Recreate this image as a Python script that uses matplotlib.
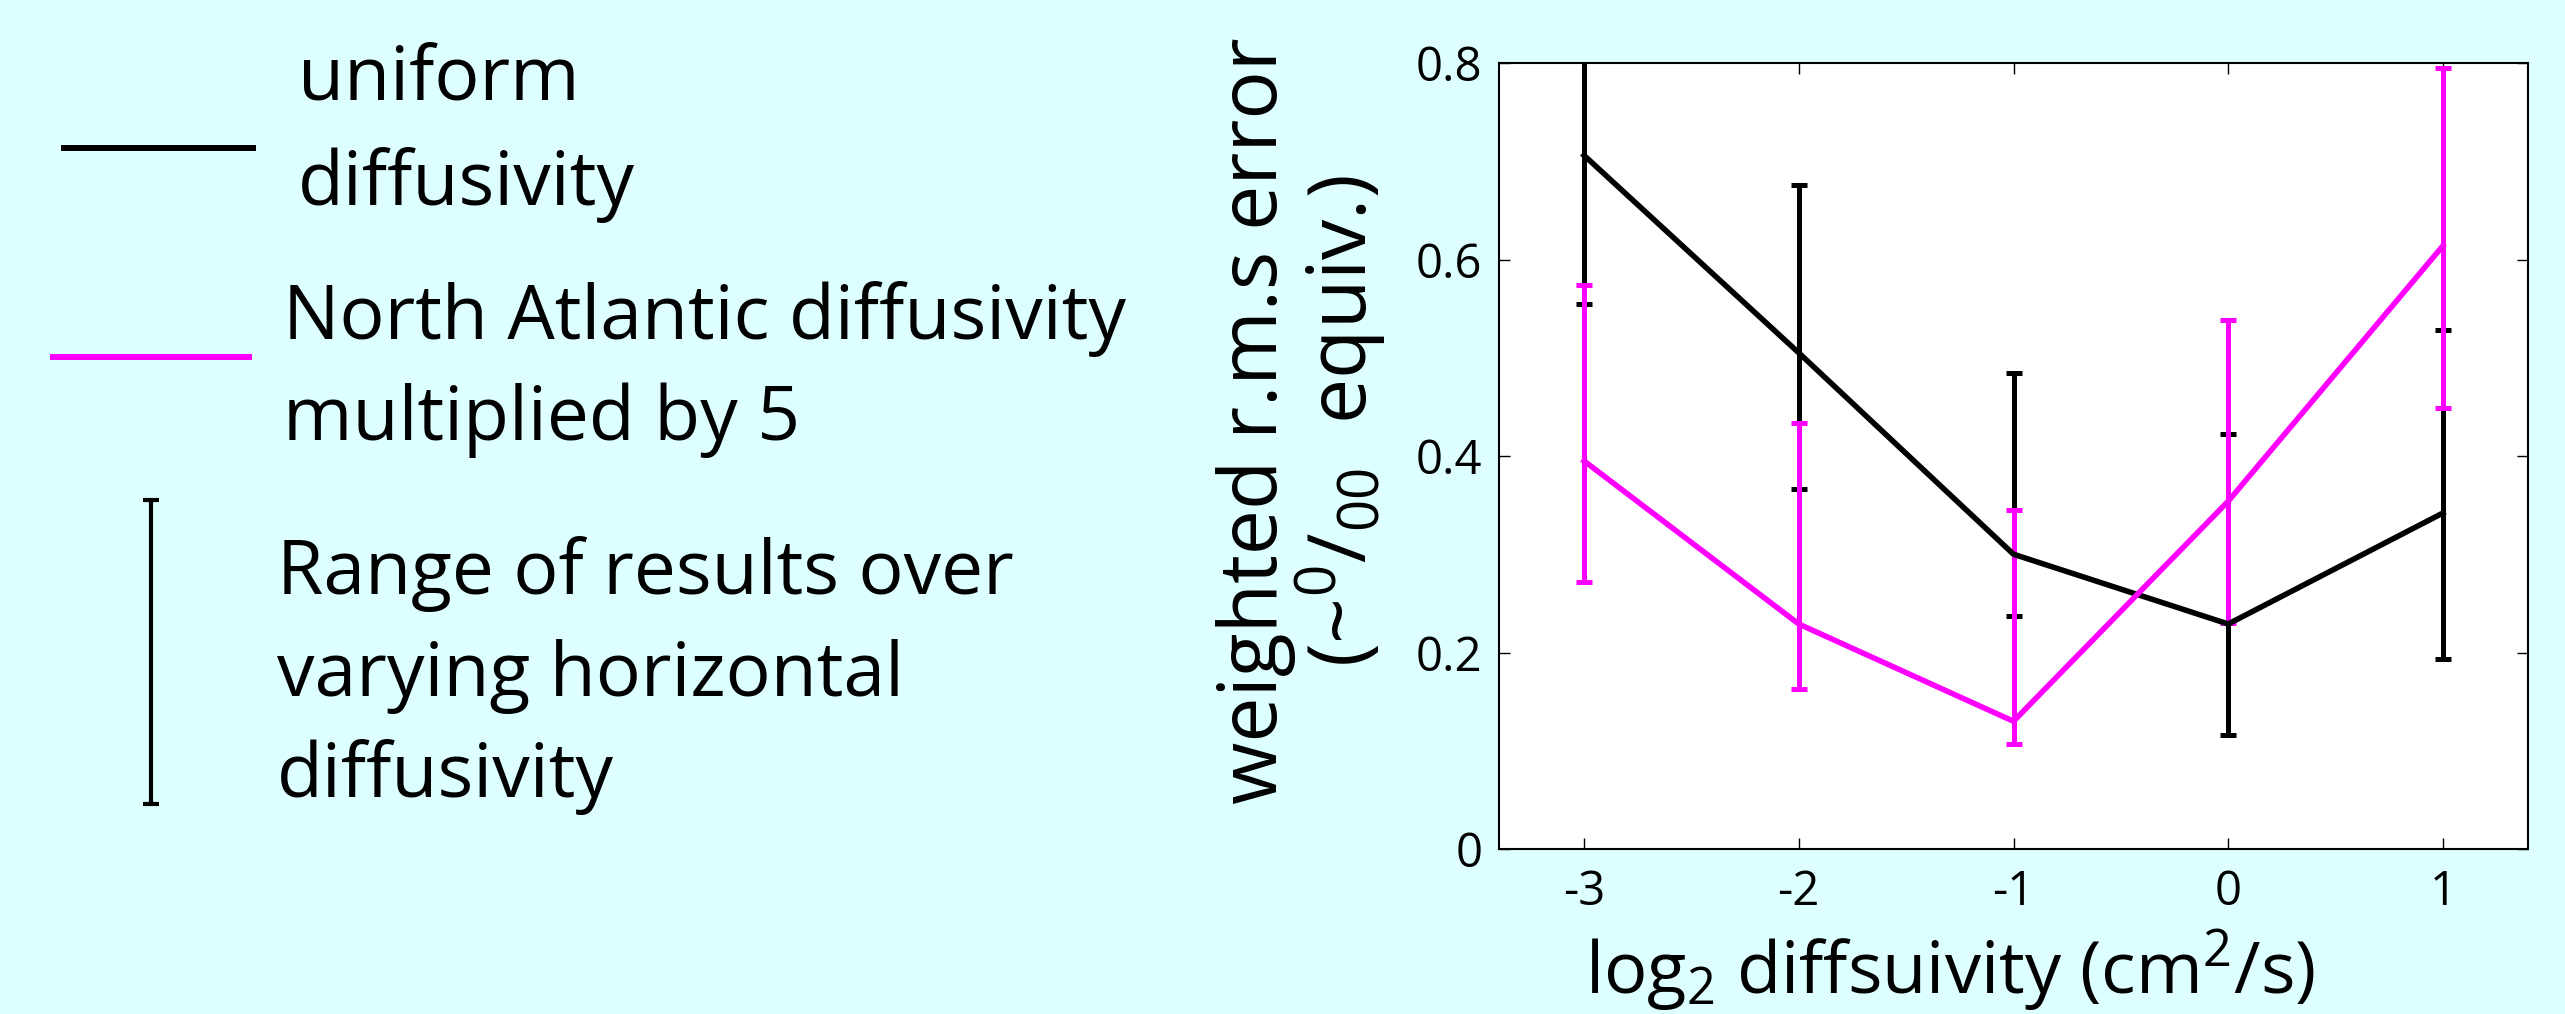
import numpy as np
import matplotlib
matplotlib.use("Agg")
from matplotlib import pyplot as plt

# log2 diffusivity
x = [-3, -2, -1, 0, 1]

# uniform diffusivity (black)
uniform = [0.706, 0.505, 0.300, 0.229, 0.342]
uniform_lo = [0.555, 0.366, 0.237, 0.116, 0.193]
uniform_hi = [0.85, 0.676, 0.484, 0.422, 0.528]

# North Atlantic diffusivity x5 (magenta)
natl = [0.395, 0.229, 0.130, 0.354, 0.614]
natl_lo = [0.272, 0.163, 0.107, 0.230, 0.449]
natl_hi = [0.574, 0.434, 0.345, 0.538, 0.795]

yticks = [0, 0.2, 0.4, 0.6, 0.8]
ytick_labels = ["0", "0.2", "0.4", "0.6", "0.8"]
xtick_labels = ["-3", "-2", "-1", "0", "1"]

bg = "#DDFFFF"
magenta = "#FF00FF"

plt.rcParams["font.family"] = ["Open Sans", "DejaVu Sans"]
plt.rcParams["mathtext.fontset"] = "custom"
plt.rcParams["mathtext.rm"] = "Open Sans"
plt.rcParams["mathtext.it"] = "Open Sans"

W, H = 2565, 1014
fig = plt.figure(figsize=(W / 100, H / 100), dpi=100)
fig.patch.set_facecolor(bg)

## legenda desenhada a mao (coordenadas em pixels)
lax = fig.add_axes([0, 0, 1, 1])
lax.set_xlim(0, W)
lax.set_ylim(H, 0)
lax.axis("off")

leg_fs = 54
lax.plot([61, 256], [148, 148], color="black", lw=4.3, solid_capstyle="butt")
lax.text(298, 100, "uniform", fontsize=leg_fs, va="baseline")
lax.text(298, 205, "diffusivity", fontsize=leg_fs, va="baseline")

lax.plot([50, 252], [357, 357], color=magenta, lw=4.3, solid_capstyle="butt")
lax.text(283, 339, "North Atlantic diffusivity", fontsize=leg_fs, va="baseline")
lax.text(283, 440, "multiplied by 5", fontsize=leg_fs, va="baseline")

lax.errorbar([151], [652], yerr=[[152], [152]], color="black", lw=3, capsize=6, capthick=3)
lax.text(277, 594, "Range of results over", fontsize=leg_fs, va="baseline")
lax.text(277, 696, "varying horizontal", fontsize=leg_fs, va="baseline")
lax.text(277, 797, "diffusivity", fontsize=leg_fs, va="baseline")

## grafico principal
ax = fig.add_axes([1499 / W, 1 - 849 / H, (2528 - 1499) / W, (849 - 63) / H])
ax.set_facecolor("white")

u = np.array(uniform)
n = np.array(natl)
ax.errorbar(x, u, yerr=[u - np.array(uniform_lo), np.array(uniform_hi) - u],
            color="black", lw=4, elinewidth=3.6, capsize=6, capthick=3.6)
ax.errorbar(x, n, yerr=[n - np.array(natl_lo), np.array(natl_hi) - n],
            color=magenta, lw=4, elinewidth=3.6, capsize=6, capthick=3.6)

ax.set_xlim(-3.396, 1.396)
ax.set_ylim(0, 0.8)
ax.set_xticks(x)
ax.set_xticklabels(xtick_labels)
ax.set_yticks(yticks)
ax.set_yticklabels(ytick_labels)
ax.tick_params(direction="in", length=8, width=1, top=True, right=True, labelsize=34)
ax.tick_params(axis="x", pad=14)
ax.tick_params(axis="y", pad=12)
for s in ax.spines.values():
    s.set_linewidth(1.5)

fig.text(1950 / W, 1 - 994 / H, r"log$_2$ diffsuivity (cm$^2$/s)",
         fontsize=52, ha="center", va="baseline")
fig.text(1256 / W, 1 - 421 / H, "weighted r.m.s error",
         fontsize=58, ha="center", va="center", rotation=90)
fig.text(1341 / W, 1 - 421 / H, r"(~$^0/_{00}$  equiv.)",
         fontsize=58, ha="center", va="center", rotation=90)

fig.savefig("out.png", dpi=100, facecolor=bg)
